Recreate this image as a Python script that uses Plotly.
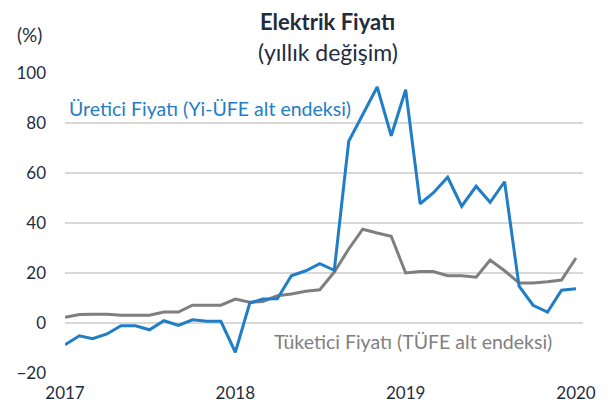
import plotly.graph_objects as go
import pandas as pd

months = pd.date_range("2017-01-01", "2020-01-01", freq="MS")

ufe = [-8.7, -5.1, -6.3, -4.4, -1.1, -1.1, -2.7, 0.9, -1.0, 1.3, 0.7, 0.7,
       -11.7, 8.0, 9.6, 9.7, 18.9, 20.9, 23.7, 21.1, 72.7, 83.3, 94.4, 74.9,
       93.3, 47.7, 52.0, 58.3, 46.7, 54.7, 48.3, 56.5, 14.7, 7.1, 4.4, 13.1,
       13.7]
tufe = [2.3, 3.4, 3.5, 3.5, 3.1, 3.1, 3.1, 4.4, 4.4, 7.1, 7.1, 7.1,
        9.6, 8.3, 8.6, 10.9, 11.6, 12.7, 13.3, 20.4, 29.6, 37.5, 36.0, 34.7,
        20.0, 20.6, 20.6, 18.9, 18.9, 18.3, 25.2, 20.9, 16.0, 16.0, 16.5, 17.2,
        26.0]

y_ticks = [-20, 0, 20, 40, 60, 80, 100]
x_ticks = ["2017-01-01", "2018-01-01", "2019-01-01", "2020-01-01"]
x_labels = ["2017", "2018", "2019", "2020"]

blue = "#1F7EC6"
gray = "#7F7F7F"
navy = "#1F2D3F"
font = "Lato"

# page body has an 8px margin; compensate so the figure fills the window
OFF = 8
W, H = 609 - OFF, 412 - OFF
L, R, T, B = 65 - OFF, 26, 73 - OFF, 39
pw = W - L - R
ph = H - T - B


def px_x(px):
    return (px - OFF - L) / pw


def px_y(py):
    return 1 - (py - OFF - T) / ph


fig = go.Figure()
fig.add_trace(go.Scatter(x=months, y=tufe, mode="lines",
                         line=dict(color=gray, width=3), name="TÜFE"))
fig.add_trace(go.Scatter(x=months, y=ufe, mode="lines",
                         line=dict(color=blue, width=3), name="Yi-ÜFE"))


def ann(text, x, y, size, color, xanchor="center", bold=False):
    f = dict(size=size, color=color, family=font)
    if bold:
        f["weight"] = "bold"
    return dict(text=text, x=px_x(x), xref="paper", xanchor=xanchor,
                y=px_y(y), yref="paper", yanchor="middle", showarrow=False,
                borderpad=0, font=f)


fig.update_layout(
    width=W, height=H,
    margin=dict(l=L, r=R, t=T, b=B, autoexpand=False),
    plot_bgcolor="white", paper_bgcolor="white",
    showlegend=False,
    font=dict(family=font, color=navy, size=17),
    xaxis=dict(range=["2017-01-01", "2020-01-16"], tickvals=x_ticks,
               ticktext=x_labels, showgrid=False, zeroline=False,
               showline=False, ticklabelstandoff=8, automargin=False,
               tickfont=dict(size=17, color=navy)),
    yaxis=dict(range=[-20, 100], tickvals=y_ticks, showgrid=True,
               gridcolor="#D9D9D9", gridwidth=1.5, zeroline=False,
               showline=False, ticklabelstandoff=18, automargin=False,
               tickfont=dict(size=17, color=navy)),
    annotations=[
        ann("Elektrik Fiyatı", 327, 21, 22, navy, bold=True),
        ann("(yıllık değişim)", 328, 52, 23, navy),
        ann("(%)", 29, 34, 19, navy),
        ann("Üretici Fiyatı (Yi-ÜFE alt endeksi)", 68, 108, 19.5, blue,
            xanchor="left"),
        ann("Tüketici Fiyatı (TÜFE alt endeksi)", 553, 341, 19.5, gray,
            xanchor="right"),
    ],
)

fig.write_html("out.html")
